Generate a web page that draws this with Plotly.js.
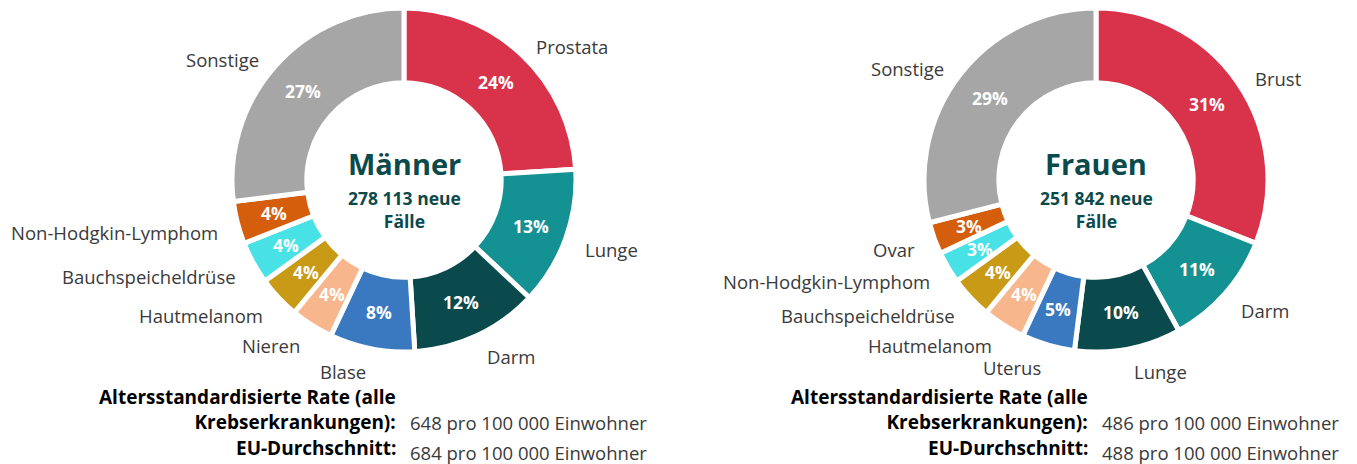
<!DOCTYPE html>
<html>
<head>
<meta charset="utf-8">
<script src="https://cdn.plot.ly/plotly-3.0.1.min.js"></script>
<style>html,body{margin:0;padding:0;background:#fff;}#chart{width:1357px;height:464px;}</style>
</head>
<body>
<div id="chart"></div>
<script>
// ---- Data ----
const menLabels = ["Prostata","Lunge","Darm","Blase","Nieren","Hautmelanom","Bauchspeicheldrüse","Non-Hodgkin-Lymphom","Sonstige"];
const menValues = [24,13,12,8,4,4,4,4,27];
const womenLabels = ["Brust","Darm","Lunge","Uterus","Hautmelanom","Bauchspeicheldrüse","Non-Hodgkin-Lymphom","Ovar","Sonstige"];
const womenValues = [31,11,10,5,4,4,3,3,29];
const menColors = ["#D9334B","#149192","#0B4A4C","#3A79BF","#F7B68B","#C99A16","#48E2E6","#D45E0C","#A6A6A6"];
const womenColors = ["#D9334B","#149192","#0B4A4C","#3A79BF","#F7B68B","#C99A16","#48E2E6","#D45E0C","#A6A6A6"];
const titles = ["Männer","Frauen"];
const subtitles = ["278 113 neue<br>Fälle","251 842 neue<br>Fälle"];
const rateLabel = "Altersstandardisierte Rate (alle<br>Krebserkrankungen):";
const euLabel = "EU-Durchschnitt:";
const rateValues = ["648 pro 100 000 Einwohner","486 pro 100 000 Einwohner"];
const euValues = ["684 pro 100 000 Einwohner","488 pro 100 000 Einwohner"];

// ---- Layout geometry ----
const W = 1357, H = 464;
const R = 172;
const centers = [[404,180],[1096,180]];
const holeFrac = 0.565;
const labelFont = {family:"Open Sans, sans-serif", size:18.5, color:"#3a3a3a"};
const valueFont = {family:"Open Sans, sans-serif", size:18.5, color:"#3a3a3a"};
const boldFont = {family:"Open Sans, sans-serif", size:19, color:"#000000"};
const pctFont = {family:"Open Sans, sans-serif", size:17.5, color:"#ffffff"};
const darkTeal = "#0B4A4C";

function domainFor(c){
  return {x:[(c[0]-R)/W,(c[0]+R)/W], y:[(H-(c[1]+R))/H,(H-(c[1]-R))/H]};
}

const sets = [
  {labels:menLabels, values:menValues, colors:menColors},
  {labels:womenLabels, values:womenValues, colors:womenColors}
];

const traces = sets.map((s,i)=>({
  type:"pie",
  labels:s.labels,
  values:s.values,
  sort:false,
  direction:"clockwise",
  rotation:0,
  hole:holeFrac,
  domain:domainFor(centers[i]),
  marker:{colors:s.colors, line:{color:"#ffffff", width:5}},
  textinfo:"none",
  hoverinfo:"label+percent",
  showlegend:false
}));

const annotations = [];
sets.forEach((s,i)=>{
  const total = s.values.reduce((a,b)=>a+b,0);
  let cum = 0;
  const c = centers[i];
  s.labels.forEach((lab,k)=>{
    const mid = (cum + s.values[k]/2)/total*2*Math.PI;
    cum += s.values[k];
    const sn = Math.sin(mid), cs = Math.cos(mid);
    // outside category label
    const rr = R + 18;
    const px = c[0] + rr*sn;
    const py = c[1] - rr*cs + 5;
    let xa = "center";
    if (sn > 0.15) xa = "left"; else if (sn < -0.15) xa = "right";
    annotations.push({
      x:px/W, y:(H-py)/H, xref:"paper", yref:"paper",
      text:lab, showarrow:false, xanchor:xa, yanchor:"middle",
      font:labelFont
    });
    // percentage label in the middle of the ring
    const rm = R*(1+holeFrac)/2;
    annotations.push({
      x:(c[0] + rm*sn)/W, y:(H-(c[1] - rm*cs))/H, xref:"paper", yref:"paper",
      text:"<b>"+s.values[k]+"%</b>", showarrow:false, xanchor:"center", yanchor:"middle",
      font:pctFont
    });
  });
  annotations.push({x:c[0]/W, y:(H-(c[1]-17))/H, xref:"paper", yref:"paper",
    text:"<b>"+titles[i]+"</b>", showarrow:false, xanchor:"center", yanchor:"middle",
    font:{family:"Open Sans, sans-serif", size:29, color:darkTeal}});
  annotations.push({x:c[0]/W, y:(H-(c[1]+29))/H, xref:"paper", yref:"paper",
    text:"<b>"+subtitles[i]+"</b>", showarrow:false, xanchor:"center", yanchor:"middle",
    font:{family:"Open Sans, sans-serif", size:17.5, color:darkTeal}});
  const rx = c[0] - 6;
  annotations.push({x:rx/W, y:(H-409)/H, xref:"paper", yref:"paper", text:"<b>"+rateLabel+"</b>",
    showarrow:false, xanchor:"right", yanchor:"middle", align:"right", font:boldFont});
  annotations.push({x:rx/W, y:(H-448)/H, xref:"paper", yref:"paper", text:"<b>"+euLabel+"</b>",
    showarrow:false, xanchor:"right", yanchor:"middle", font:boldFont});
  annotations.push({x:(c[0]+4)/W, y:(H-422)/H, xref:"paper", yref:"paper", text:rateValues[i],
    showarrow:false, xanchor:"left", yanchor:"middle", font:valueFont});
  annotations.push({x:(c[0]+4)/W, y:(H-452)/H, xref:"paper", yref:"paper", text:euValues[i],
    showarrow:false, xanchor:"left", yanchor:"middle", font:valueFont});
});

const layout = {
  width:W, height:H,
  margin:{l:0,r:0,t:0,b:0},
  paper_bgcolor:"#ffffff",
  plot_bgcolor:"#ffffff",
  showlegend:false,
  annotations:annotations
};

Plotly.newPlot("chart", traces, layout, {displayModeBar:false, staticPlot:true});
</script>
</body>
</html>
